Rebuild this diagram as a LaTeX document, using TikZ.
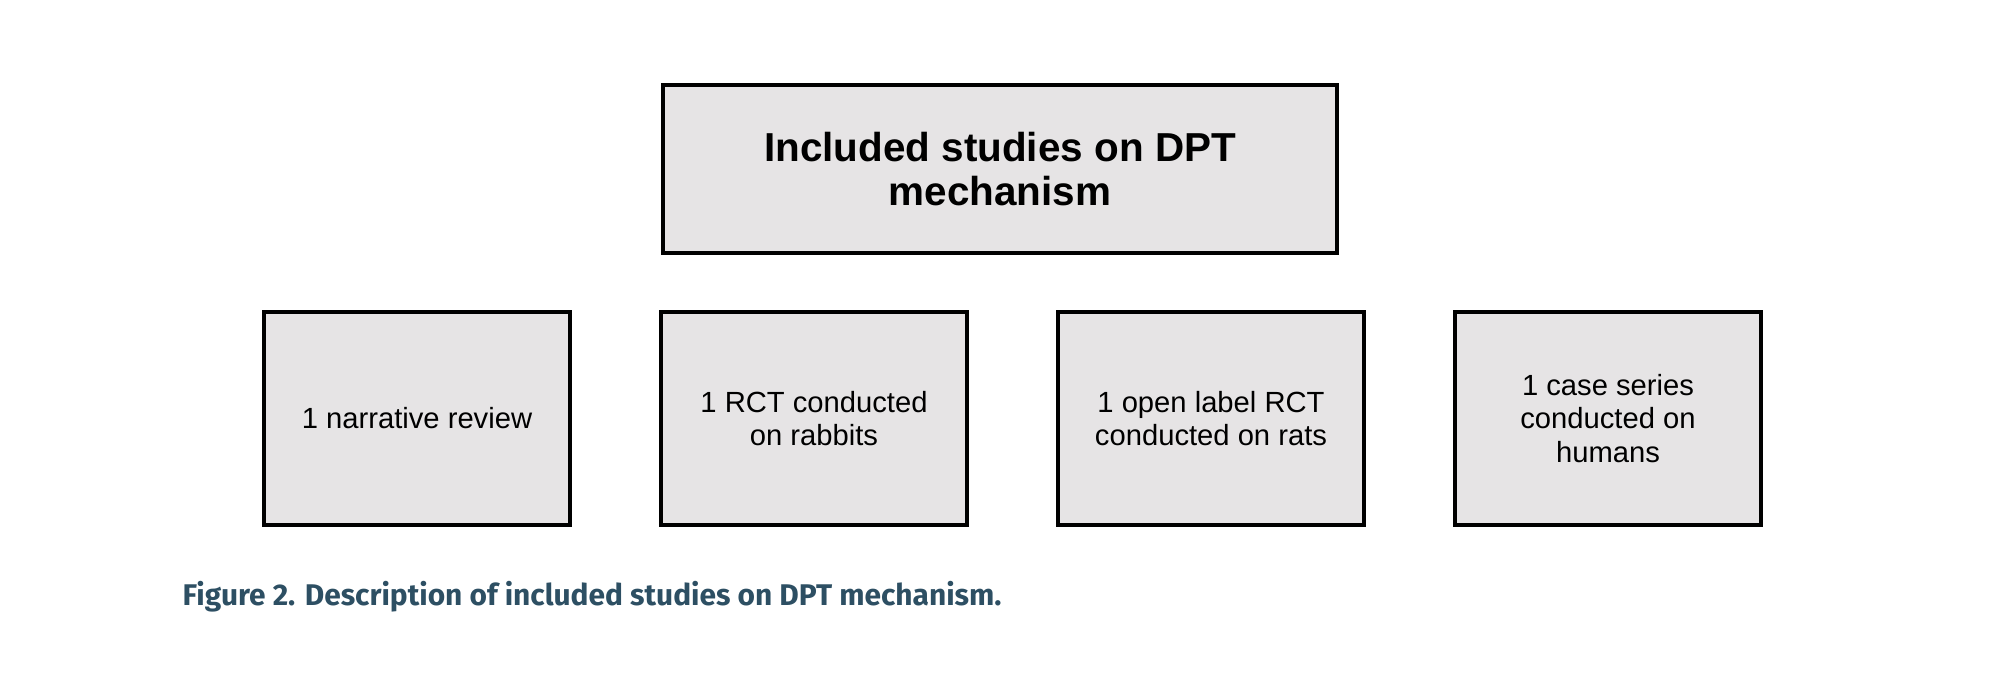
\documentclass[tikz,border=0pt]{standalone}
\usepackage{fontspec}
\setmainfont{Liberation Sans}
\newfontfamily\capfont{Fira Sans Bold}
\definecolor{boxfill}{HTML}{E6E4E5}
\definecolor{capblue}{HTML}{2D4F63}
\begin{document}
\begin{tikzpicture}[x=0.01cm,y=-0.01cm,
  boxstyle/.style={draw=black, fill=boxfill, line width=1.15pt, align=center, inner sep=0pt},
  topbox/.style={boxstyle, minimum width=6.74cm, minimum height=1.68cm, font=\fontsize{11.5}{12.7}\selectfont\bfseries},
  leafbox/.style={boxstyle, minimum width=3.05cm, minimum height=2.13cm, font=\fontsize{8.3}{9.6}\selectfont}]
\path[use as bounding box] (0,0) rectangle (2000,690);
\node[topbox] (top) at (1000,169) {Included studies on DPT\\mechanism};
\node[leafbox] (b1) at (417,418.5) {1 narrative review};
\node[leafbox] (b2) at (814,418.5) {1 RCT conducted\\on rabbits};
\node[leafbox] (b3) at (1211,418.5) {1 open label RCT\\conducted on rats};
\node[leafbox] (b4) at (1608,418.5) {1 case series\\conducted on\\humans};
\node[anchor=west, inner sep=0pt, text=capblue, font=\capfont\fontsize{8.5}{9.8}\selectfont] (cap) at (182,597) {Figure 2. Description of included studies on DPT mechanism.};
\end{tikzpicture}
\end{document}
